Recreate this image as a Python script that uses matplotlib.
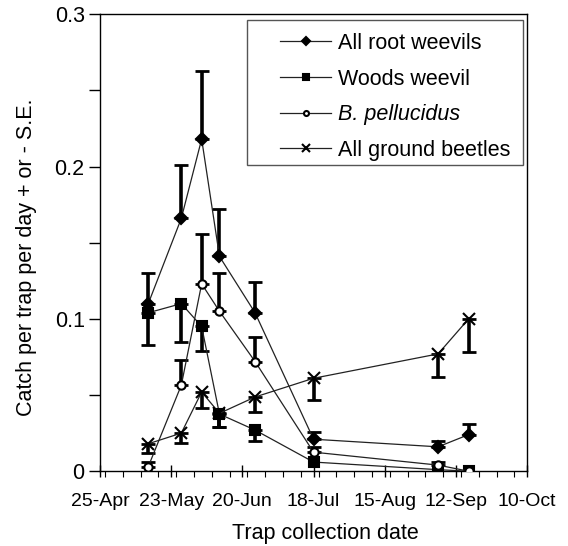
import numpy as np
import pandas as pd
import matplotlib
matplotlib.use("Agg")
import matplotlib.pyplot as plt
import matplotlib.dates as mdates
from matplotlib.patches import Rectangle

plt.rcParams['font.family'] = ['Liberation Sans', 'DejaVu Sans']

# ── data ──
dates = ["2003-05-14", "2003-05-27", "2003-06-04", "2003-06-11",
         "2003-06-25", "2003-07-18", "2003-09-05", "2003-09-17"]

root_weevils = [0.110, 0.166, 0.218, 0.141, 0.104, 0.021, 0.016, 0.024]
root_se      = [0.020, 0.035, 0.045, 0.031, 0.020, 0.005, 0.004, 0.007]

woods_weevil = [0.104, 0.110, 0.095, 0.0375, 0.027, 0.006, 0.001, 0.000]
woods_se     = [0.021, 0.025, 0.016, 0.0085, 0.007, 0.000, 0.000, 0.000]

pellucidus    = [0.003, 0.0565, 0.123, 0.105, 0.072, 0.0125, 0.004, 0.000]
pellucidus_se = [0.003, 0.0165, 0.033, 0.025, 0.016, 0.0035, 0.002, 0.000]

ground_beetles = [0.018, 0.025, 0.052, 0.038, 0.0487, 0.061, 0.077, 0.100]
ground_se      = [0.006, 0.0065, 0.0105, 0.009, 0.0097, 0.014, 0.015, 0.022]

x_ticks = ["2003-04-25", "2003-05-23", "2003-06-20", "2003-07-18",
           "2003-08-15", "2003-09-12", "2003-10-10"]
y_ticks = [0, 0.1, 0.2, 0.3]
y_labels = ["0", "0.1", "0.2", "0.3"]

x = pd.to_datetime(dates)
xt = pd.to_datetime(x_ticks)

fig = plt.figure(figsize=(5.68, 5.46), dpi=100)
ax = fig.add_axes([0.176, 0.137, 0.752, 0.837])

series = [
    ("All root weevils", root_weevils, root_se, 'D', 'black', 6.5, 'up'),
    ("Woods weevil", woods_weevil, woods_se, 's', 'black', 6.5, 'down'),
    ("B. pellucidus", pellucidus, pellucidus_se, 'o', 'white', 6.0, 'up'),
    ("All ground beetles", ground_beetles, ground_se, 'x', 'black', 8.5, 'down'),
]

handles = []
for label, vals, se, mk, fc, ms, side in series:
    vals = np.array(vals)
    se = np.array(se)
    zero = np.zeros_like(se)
    lo, hi = (zero, se) if side == 'up' else (se, zero)
    mask = se > 0
    ax.errorbar(x[mask], vals[mask], yerr=[lo[mask], hi[mask]],
                fmt='none', ecolor='black', elinewidth=2.6, capsize=5,
                capthick=2.0, zorder=2)
    h, = ax.plot(x, vals, color='#222222', lw=0.9, marker=mk, ms=ms,
                 mfc=fc, mec='black', mew=1.5, zorder=3, label=label)
    handles.append(h)

ax.set_xlim(xt[0], xt[-1])
ax.set_ylim(0, 0.3)
ax.set_xticks(xt)
ax.xaxis.set_major_formatter(mdates.DateFormatter('%-d-%b'))
ax.xaxis.set_minor_locator(mdates.DayLocator(interval=7))
ax.set_yticks(y_ticks)
ax.set_yticklabels(y_labels)
ax.set_yticks([0.05, 0.15, 0.25], minor=True)

ax.tick_params(axis='x', which='major', direction='inout', length=9,
               width=1, labelsize=14, pad=11)
ax.tick_params(axis='x', which='minor', direction='out', length=4.5, width=0.8)
ax.tick_params(axis='y', which='both', direction='out', length=8, width=1,
               labelsize=15.5, pad=3)
for s in ax.spines.values():
    s.set_linewidth(1.0)

ax.set_xlabel("Trap collection date", fontsize=15.5)
ax.xaxis.set_label_coords(0.527, -0.113)
ax.set_ylabel("Catch per trap per day + or - S.E.", fontsize=15.5)
ax.yaxis.set_label_coords(-0.148, 0.468)

# legend box drawn separately so the entries can sit inside it like the original
ax.add_patch(Rectangle((0.344, 0.670), 0.647, 0.317, transform=ax.transAxes,
                       facecolor='white', edgecolor='#555555', lw=1.0,
                       zorder=4))
leg = ax.legend(handles=handles, loc='upper left',
                bbox_to_anchor=(0.4215, 0.959), fontsize=15.5,
                frameon=False, markerscale=0.6, handlelength=2.37,
                handletextpad=0.33, labelspacing=0.68, borderpad=0,
                borderaxespad=0)
leg.set_zorder(5)
leg.get_texts()[2].set_style('italic')

fig.savefig("out.png", dpi=100)
